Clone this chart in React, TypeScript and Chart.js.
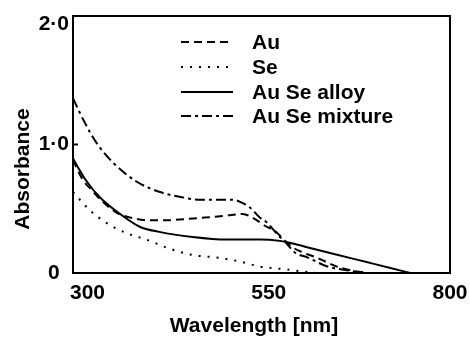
import React, { useEffect, useRef } from 'react';
import { Chart, registerables } from 'chart.js';

Chart.register(...registerables);

// ---- data ----
const xTickValues = [300, 550, 800];
const yTickValues = [0, 1, 2];
const yTickLabels = ['0', '1·0', '2·0'];
const seriesNames = ['Au', 'Se', 'Au Se alloy', 'Au Se mixture'];
const xTitle = 'Wavelength [nm]';
const yTitle = 'Absorbance';

const auWavelength = [280, 293, 305, 320, 340, 360, 385, 409, 435, 459, 480, 496, 514, 528, 547, 558, 569, 583, 597, 616, 644, 668, 688];
const auAbsorbance = [0.88, 0.73, 0.65, 0.56, 0.47, 0.43, 0.41, 0.41, 0.42, 0.43, 0.44, 0.45, 0.46, 0.43, 0.36, 0.33, 0.27, 0.2, 0.16, 0.12, 0.05, 0.015, 0];

const seWavelength = [280, 303, 326, 354, 381, 413, 445, 478, 510, 538, 570, 600, 615];
const seAbsorbance = [0.63, 0.49, 0.39, 0.31, 0.26, 0.19, 0.14, 0.12, 0.09, 0.05, 0.03, 0.01, 0];

const alloyWavelength = [280, 298, 317, 340, 372, 399, 445, 492, 538, 565, 579, 600, 640, 685, 715, 745];
const alloyAbsorbance = [0.89, 0.72, 0.59, 0.48, 0.36, 0.32, 0.28, 0.26, 0.26, 0.25, 0.235, 0.205, 0.148, 0.085, 0.043, 0];

const mixWavelength = [280, 290, 303, 314, 335, 368, 400, 430, 455, 480, 500, 512, 524, 538, 548, 562, 573, 586, 604, 631, 659, 682];
const mixAbsorbance = [1.36, 1.24, 1.1, 1.0, 0.86, 0.71, 0.63, 0.59, 0.57, 0.57, 0.57, 0.55, 0.51, 0.43, 0.39, 0.3, 0.24, 0.16, 0.12, 0.05, 0.02, 0];

const FONT = "'Liberation Sans', Arial, Helvetica, sans-serif";
const dashes: number[][] = [[8, 5], [2, 7], [], [10, 4, 3, 4]];

const toPoints = (xs: number[], ys: number[]) => xs.map((x, i) => ({ x, y: ys[i] }));

const overlayPlugin = {
  id: 'overlay',
  afterDatasetsDraw(chart: any) {
    const { ctx, chartArea } = chart;
    const { left, right, top, bottom } = chartArea;
    ctx.save();
    ctx.strokeStyle = '#000';
    ctx.lineWidth = 2;
    ctx.setLineDash([]);
    ctx.strokeRect(left, top, right - left, bottom - top);
    const y1 = chart.scales.y.getPixelForValue(1);
    ctx.beginPath();
    ctx.moveTo(left, y1);
    ctx.lineTo(left + 5, y1);
    ctx.stroke();

    // legend
    const rows = [26, 51, 76, 100];
    ctx.font = `bold 21px ${FONT}`;
    ctx.fillStyle = '#000';
    ctx.textBaseline = 'middle';
    ctx.textAlign = 'left';
    seriesNames.forEach((name, i) => {
      const y = top + rows[i];
      ctx.beginPath();
      ctx.setLineDash(dashes[i]);
      ctx.lineWidth = 2;
      ctx.moveTo(left + 108, y);
      ctx.lineTo(left + 160, y);
      ctx.stroke();
      ctx.setLineDash([]);
      ctx.fillText(name, left + 179, y + 1);
    });

    // axis titles
    ctx.textAlign = 'center';
    ctx.fillText(xTitle, 254, 326);
    ctx.save();
    ctx.translate(23, 169);
    ctx.rotate(-Math.PI / 2);
    ctx.fillText(yTitle, 0, 0);
    ctx.restore();
    ctx.restore();
  },
};

export default function App() {
  const ref = useRef<HTMLCanvasElement>(null);
  useEffect(() => {
    if (!ref.current) return;
    const series = [
      toPoints(auWavelength, auAbsorbance),
      toPoints(seWavelength, seAbsorbance),
      toPoints(alloyWavelength, alloyAbsorbance),
      toPoints(mixWavelength, mixAbsorbance),
    ];
    const topValue = yTickValues[yTickValues.length - 1];
    const chart = new Chart(ref.current, {
      type: 'line',
      data: {
        datasets: series.map((data, i) => ({
          label: seriesNames[i],
          data,
          borderColor: '#000',
          backgroundColor: '#000',
          borderWidth: 2,
          borderDash: dashes[i],
          pointRadius: 0,
          fill: false,
          cubicInterpolationMode: 'monotone' as const,
        })),
      },
      options: {
        responsive: false,
        animation: false,
        layout: { padding: { top: 16, right: 20, left: 0, bottom: 0 } },
        plugins: { legend: { display: false }, tooltip: { enabled: false } },
        scales: {
          x: {
            type: 'linear',
            min: 280,
            max: 800,
            afterBuildTicks: (s: any) => { s.ticks = xTickValues.map((v) => ({ value: v })); },
            afterFit: (s: any) => {
              s.height = 64;
              s.paddingLeft = 0;
              s.paddingRight = 0;
            },
            grid: { display: false, drawTicks: false },
            border: { display: false },
            ticks: { color: '#000', font: { family: FONT, size: 21, weight: 'bold' }, padding: 8, maxRotation: 0, autoSkip: false },
          },
          y: {
            type: 'linear',
            min: 0,
            max: 2,
            afterBuildTicks: (s: any) => { s.ticks = yTickValues.map((v) => ({ value: v })); },
            afterFit: (s: any) => {
              s.width = 73;
              s.paddingTop = 0;
              s.paddingBottom = 0;
            },
            grid: { display: false, drawTicks: false },
            border: { display: false },
            ticks: {
              color: '#000',
              font: (c: any) => ({
                family: FONT,
                size: 21,
                weight: 'bold',
                lineHeight: c.tick && c.tick.value === topValue ? 0.75 : 1.2,
              }),
              padding: 4,
              crossAlign: 'center',
              callback: (v: any) => {
                const label = yTickLabels[yTickValues.indexOf(Number(v))];
                return Number(v) === topValue ? ['', label] : label;
              },
            },
          },
        },
      },
      plugins: [overlayPlugin],
    } as any);
    return () => chart.destroy();
  }, []);
  return (
    <div style={{ position: 'fixed', left: 0, top: 0, width: 470, height: 337, background: '#fff' }}>
      <canvas ref={ref} width={470} height={337} style={{ display: 'block' }} />
    </div>
  );
}
